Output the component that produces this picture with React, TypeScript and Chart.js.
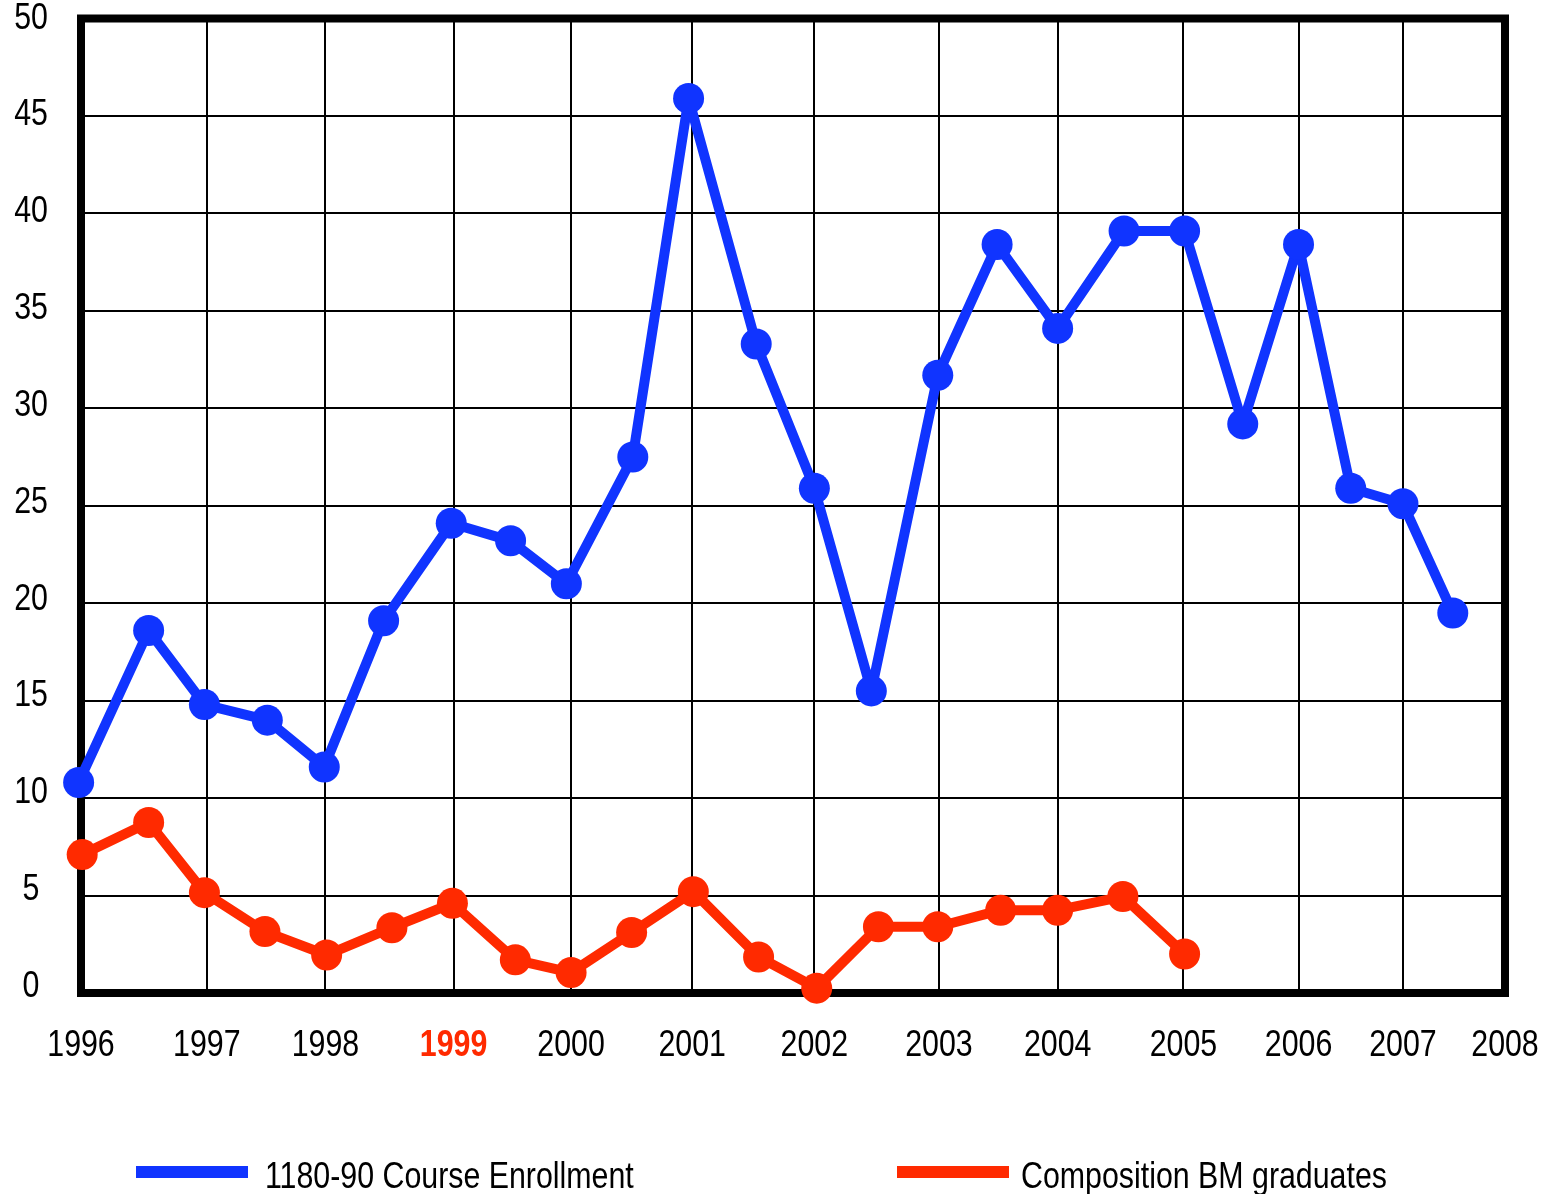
import React, { useEffect, useRef } from 'react';
import { Chart, registerables } from 'chart.js';

Chart.register(...registerables);

// ---- data ----
const tickPositions = [1996, 1997.06, 1998.06, 1999.14, 2000.13, 2001.15, 2002.18, 2003.23, 2004.23, 2005.29, 2006.26, 2007.14, 2008];
const tickLabels = ['1996', '1997', '1998', '1999', '2000', '2001', '2002', '2003', '2004', '2005', '2006', '2007', '2008'];
const highlightedLabel = '1999';

const enrollmentYears = [1995.98, 1996.57, 1997.04, 1997.57, 1998.05, 1998.55, 1999.12, 1999.62, 2000.09, 2000.65, 2001.12, 2001.69, 2002.18, 2002.66, 2003.22, 2003.72, 2004.23, 2004.79, 2005.3, 2005.79, 2006.26, 2006.7, 2007.14, 2007.56];
const enrollmentValues = [10.8, 18.6, 14.8, 14.0, 11.6, 19.1, 24.1, 23.2, 21.0, 27.5, 45.9, 33.3, 25.9, 15.5, 31.7, 38.4, 34.1, 39.1, 39.1, 29.2, 38.4, 25.9, 25.1, 19.5];

const graduateYears = [1996.01, 1996.57, 1997.04, 1997.55, 1998.07, 1998.62, 1999.13, 1999.66, 2000.13, 2000.64, 2001.16, 2001.71, 2002.2, 2002.72, 2003.22, 2003.75, 2004.23, 2004.78, 2005.3];
const graduateValues = [7.1, 8.75, 5.15, 3.15, 1.95, 3.35, 4.6, 1.7, 1.05, 3.1, 5.2, 1.85, 0.25, 3.4, 3.4, 4.25, 4.25, 4.95, 2.0];

const seriesLabels = ['1180-90 Course Enrollment', 'Composition BM graduates'];
const BLUE = '#1034ff';
const RED = '#ff2a00';
const FONT = "'Liberation Sans', Arial, Helvetica, sans-serif";
const NARROW = 0.82;

function drawNarrowText(ctx: CanvasRenderingContext2D, text: string, x: number, y: number, align: CanvasTextAlign, color: string, bold = false) {
  ctx.save();
  ctx.translate(x, y);
  ctx.scale(NARROW, 1);
  ctx.font = `${bold ? 'bold ' : ''}37px ${FONT}`;
  ctx.textAlign = align;
  ctx.textBaseline = 'alphabetic';
  ctx.fillStyle = color;
  ctx.fillText(text, 0, 0);
  ctx.restore();
}

const frame = {
  id: 'frame',
  beforeDatasetsDraw(chart: any) {
    const { ctx, chartArea } = chart;
    ctx.save();
    ctx.strokeStyle = '#000';
    ctx.lineWidth = 8;
    ctx.strokeRect(chartArea.left, chartArea.top, chartArea.right - chartArea.left, chartArea.bottom - chartArea.top);
    ctx.restore();
  },
};

const axisLabels = {
  id: 'axisLabels',
  afterDraw(chart: any) {
    const { ctx, scales } = chart;
    const xs = scales.x;
    const ys = scales.y;
    tickPositions.forEach((v, i) => {
      const hi = tickLabels[i] === highlightedLabel;
      drawNarrowText(ctx, tickLabels[i], xs.getPixelForValue(v), 1056, 'center', hi ? RED : '#000', hi);
    });
    ys.ticks.forEach((t: any) => {
      const py = ys.getPixelForValue(t.value);
      drawNarrowText(ctx, String(t.value), 31, py + 10 - (50 - t.value) * 0.12, 'center', '#000');
    });
  },
};

const bottomLegend = {
  id: 'bottomLegend',
  afterDraw(chart: any) {
    const { ctx } = chart;
    const starts = [136, 897];
    const textStarts = [265, 1021];
    const lineLen = 112;
    const y = 1172;
    chart.data.datasets.forEach((ds: any, i: number) => {
      const x0 = starts[i];
      ctx.save();
      ctx.fillStyle = ds.borderColor;
      ctx.fillRect(x0, y - 6, lineLen, 12);
      ctx.restore();
      drawNarrowText(ctx, ds.label, textStarts[i], 1188, 'left', '#000');
    });
  },
};

export default function App() {
  const ref = useRef<HTMLCanvasElement>(null);

  useEffect(() => {
    if (!ref.current) return;
    const chart = new Chart(ref.current, {
      type: 'line',
      data: {
        datasets: [
          {
            label: seriesLabels[0],
            data: enrollmentYears.map((x, i) => ({ x, y: enrollmentValues[i] })),
            borderColor: BLUE,
            backgroundColor: BLUE,
            borderWidth: 10,
            borderJoinStyle: 'round',
            pointRadius: 15.5,
            pointBorderWidth: 0,
            pointBackgroundColor: BLUE,
            tension: 0,
            clip: false as any,
          },
          {
            label: seriesLabels[1],
            data: graduateYears.map((x, i) => ({ x, y: graduateValues[i] })),
            borderColor: RED,
            backgroundColor: RED,
            borderWidth: 10,
            borderJoinStyle: 'round',
            pointRadius: 15.5,
            pointBorderWidth: 0,
            pointBackgroundColor: RED,
            tension: 0,
            clip: false as any,
          },
        ],
      },
      options: {
        responsive: false,
        animation: false,
        devicePixelRatio: 1,
        layout: { padding: { top: 18.5, right: 47, left: 0, bottom: 0 } },
        plugins: {
          legend: { display: false },
          tooltip: { enabled: false },
        },
        scales: {
          x: {
            type: 'linear',
            min: 1996,
            max: 2008,
            afterBuildTicks: (scale: any) => {
              scale.ticks = tickPositions.map((v) => ({ value: v }));
            },
            afterFit: (scale: any) => {
              scale.height = 201;
            },
            border: { display: false },
            grid: { color: '#000', lineWidth: 2, drawTicks: false },
            ticks: { display: false, autoSkip: false, maxRotation: 0 },
          },
          y: {
            min: 0,
            max: 50,
            afterFit: (scale: any) => {
              scale.width = 81;
            },
            border: { display: false },
            grid: { color: '#000', lineWidth: 2, drawTicks: false },
            ticks: { display: false, stepSize: 5 },
          },
        },
      },
      plugins: [frame, axisLabels, bottomLegend],
    } as any);
    return () => chart.destroy();
  }, []);

  return (
    <canvas
      ref={ref}
      width={1552}
      height={1194}
      style={{ position: 'absolute', left: 0, top: 0, width: 1552, height: 1194 }}
    />
  );
}
